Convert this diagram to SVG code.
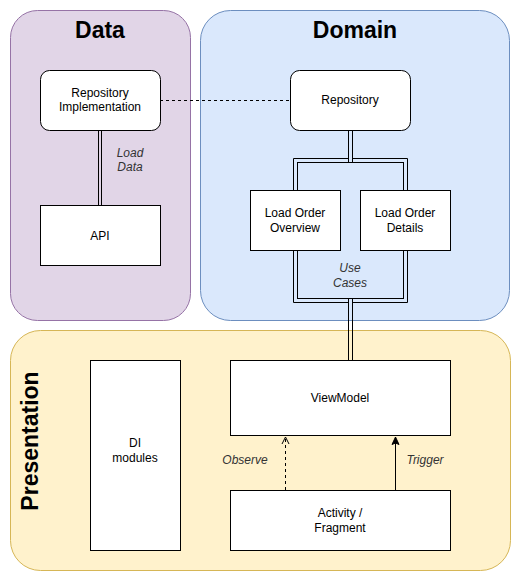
<svg xmlns="http://www.w3.org/2000/svg" width="511" height="571" viewBox="0 0 511 571">
<style>
.t{font-family:"Liberation Sans",Arial,sans-serif;font-size:12px;fill:#000;text-anchor:middle}
.h{font-family:"Liberation Sans",Arial,sans-serif;font-size:23px;font-weight:bold;fill:#000;text-anchor:middle}
.lbl{font-family:"Liberation Sans",Arial,sans-serif;font-size:12px;font-style:italic;fill:#333;text-anchor:middle}
.box{fill:#fff;stroke:#000;stroke-width:1}
.ln{fill:none;stroke:#000;stroke-width:1}
</style>
<defs>
<marker id="open" markerWidth="10" markerHeight="10" refX="8" refY="5" orient="auto" markerUnits="userSpaceOnUse" viewBox="0 0 10 10">
<path d="M1,1.5 L8,5 L1,8.5" fill="none" stroke="#000" stroke-width="1"/>
</marker>
<marker id="classic" markerWidth="10" markerHeight="10" refX="8" refY="5" orient="auto" markerUnits="userSpaceOnUse" viewBox="0 0 10 10">
<path d="M0.5,1.5 L8,5 L0.5,8.5 L2,5 Z" fill="#000" stroke="#000" stroke-width="1"/>
</marker>
</defs>
<rect width="511" height="571" fill="#fff"/>
<g id="data">
<rect x="10.5" y="10.5" width="180" height="310" rx="27" fill="#e1d5e7" stroke="#9673a6"/>
<text class="h" x="100" y="38">Data</text>
</g>
<g id="domain">
<rect x="200.5" y="10.5" width="309" height="310" rx="30" fill="#dae8fc" stroke="#6c8ebf"/>
<text class="h" x="355" y="38">Domain</text>
</g>
<g id="presentation">
<rect x="10.5" y="330.5" width="500" height="240" rx="30" fill="#fff2cc" stroke="#d6b656"/>
<text class="h" transform="translate(38,441) rotate(-90)" x="0" y="0">Presentation</text>
</g>
<g id="usecases">
<path class="ln" d="M352.5,158.5 H407.5 V302.5 H352.5 M348.5,302.5 H293.5 V158.5 H348.5"/>
<rect class="ln" x="297.5" y="162.5" width="106" height="136"/>
<text class="lbl" x="350" y="272">Use</text>
<text class="lbl" x="350" y="287">Cases</text>
</g>
<g id="connectors">
<line class="ln" x1="98.5" y1="130" x2="98.5" y2="205"/>
<line class="ln" x1="101.5" y1="130" x2="101.5" y2="205"/>
<line class="ln" x1="160" y1="100.5" x2="290" y2="100.5" stroke-dasharray="3 3"/>
<line class="ln" x1="348.5" y1="130" x2="348.5" y2="162.5"/>
<line class="ln" x1="352.5" y1="130" x2="352.5" y2="162.5"/>
<line class="ln" x1="348.5" y1="298.5" x2="348.5" y2="360"/>
<line class="ln" x1="352.5" y1="298.5" x2="352.5" y2="360"/>
<line class="ln" x1="285.5" y1="490" x2="285.5" y2="437" stroke-dasharray="3 3" marker-end="url(#open)"/>
<line class="ln" x1="395.5" y1="490" x2="395.5" y2="437" marker-end="url(#classic)"/>
<text class="lbl" x="130" y="157">Load</text>
<text class="lbl" x="130" y="171">Data</text>
<text class="lbl" x="245" y="464">Observe</text>
<text class="lbl" x="425" y="464">Trigger</text>
</g>
<g id="repo-impl">
<rect class="box" x="40.5" y="70.5" width="120" height="60" rx="9"/>
<text class="t" x="100" y="97">Repository</text>
<text class="t" x="100" y="111">Implementation</text>
</g>
<g id="api">
<rect class="box" x="40.5" y="205.5" width="120" height="60"/>
<text class="t" x="100" y="240">API</text>
</g>
<g id="repository">
<rect class="box" x="290.5" y="70.5" width="120" height="60" rx="9"/>
<text class="t" x="350" y="104">Repository</text>
</g>
<g id="load-order-overview">
<rect class="box" x="250.5" y="190.5" width="90" height="60"/>
<text class="t" x="295" y="217">Load Order</text>
<text class="t" x="295" y="232">Overview</text>
</g>
<g id="load-order-details">
<rect class="box" x="360.5" y="190.5" width="90" height="60"/>
<text class="t" x="405" y="217">Load Order</text>
<text class="t" x="405" y="232">Details</text>
</g>
<g id="viewmodel">
<rect class="box" x="230.5" y="360.5" width="220" height="75"/>
<text class="t" x="340" y="402">ViewModel</text>
</g>
<g id="activity-fragment">
<rect class="box" x="230.5" y="490.5" width="220" height="60"/>
<text class="t" x="340" y="517">Activity /</text>
<text class="t" x="340" y="532">Fragment</text>
</g>
<g id="di-modules">
<rect class="box" x="90.5" y="360.5" width="90" height="190"/>
<text class="t" x="135" y="447">DI</text>
<text class="t" x="135" y="462">modules</text>
</g>
</svg>
